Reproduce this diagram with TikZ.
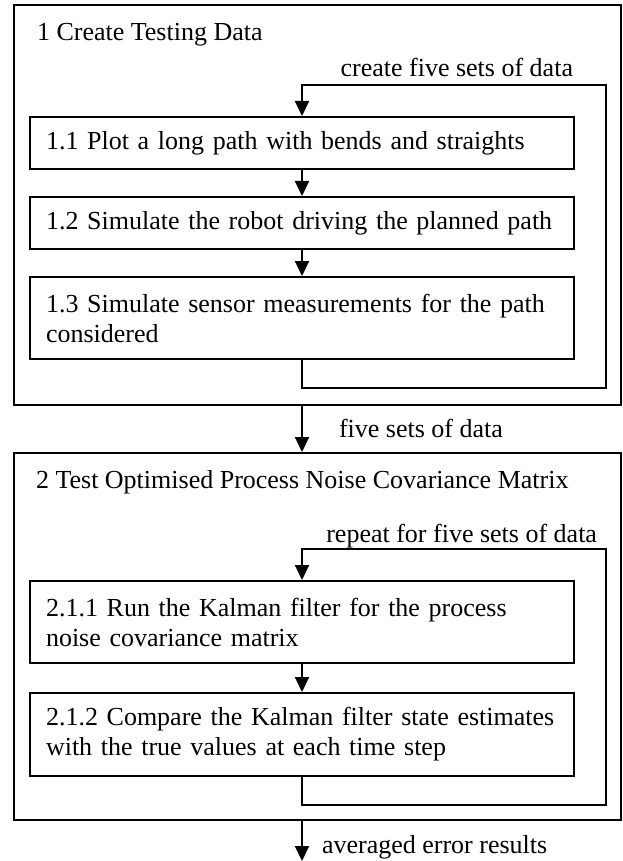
\documentclass[tikz,border=0pt]{standalone}
\usepackage{fontspec}
\setmainfont{Liberation Serif}
\usetikzlibrary{arrows.meta}

\begin{document}
\begin{tikzpicture}[x=0.5pt,y=-0.5pt,line width=1pt,font=\fontsize{13}{15}\selectfont,
  >={Triangle[length=7.5pt,width=7pt]},
  box/.style={draw,align=left,text width=256pt,inner xsep=8pt,minimum height=#1},
  frame/.style={draw,minimum width=303.5pt,minimum height=#1},
  lbl/.style={inner sep=0pt}]
\useasboundingbox (0,0) rectangle (622,861);

\node[frame=200pt] (N1) at (317.5,205) {};
\node[lbl,anchor=base west] (T1) at (36,41) {1 Create Testing Data};
\node[box=26pt] (N11) at (302,143) {1.1 Plot a long path with bends and straights};
\node[box=26pt] (N12) at (302,223) {1.2 Simulate the robot driving the planned path};
\node[box=41pt] (N13) at (302,318) {1.3 Simulate sensor measurements for the path considered};
\node[lbl,anchor=base east] (T11) at (574,77) {create five sets of data};

\node[lbl,anchor=base west] (T12) at (338,437) {five sets of data};

\node[frame=183.5pt] (N2) at (317.5,636.5) {};
\node[lbl,anchor=base west] (T2) at (35,488) {2 Test Optimised Process Noise Covariance Matrix};
\node[box=41pt] (N211) at (302,622) {2.1.1 Run the Kalman filter for the process noise covariance matrix};
\node[box=41.5pt] (N212) at (302,734.5) {2.1.2 Compare the Kalman filter state estimates with the true values at each time step};
\node[lbl,anchor=base east] (T21) at (598,542) {repeat for five sets of data};
\node[lbl,anchor=base west] (T22) at (321,853) {averaged error results};

\coordinate (C1) at (302,388);
\coordinate (C2) at (606,388);
\coordinate (C3) at (606,85);
\coordinate (C4) at (302,85);
\coordinate (D1) at (302,805);
\coordinate (D2) at (606,805);
\coordinate (D3) at (606,549);
\coordinate (D4) at (302,549);
\coordinate (E) at (302,861);

\draw[->] (N11) -- (N12);
\draw[->] (N12) -- (N13);
\draw[->] (N13) -- (C1) -- (C2) -- (C3) -- (C4) -- (N11);
\draw[->] (N1.south -| N13) -- (N2.north -| N13);
\draw[->] (N211) -- (N212);
\draw[->] (N212) -- (D1) -- (D2) -- (D3) -- (D4) -- (N211);
\draw[->] (N2.south -| N212) -- (E);
\end{tikzpicture}
\end{document}
